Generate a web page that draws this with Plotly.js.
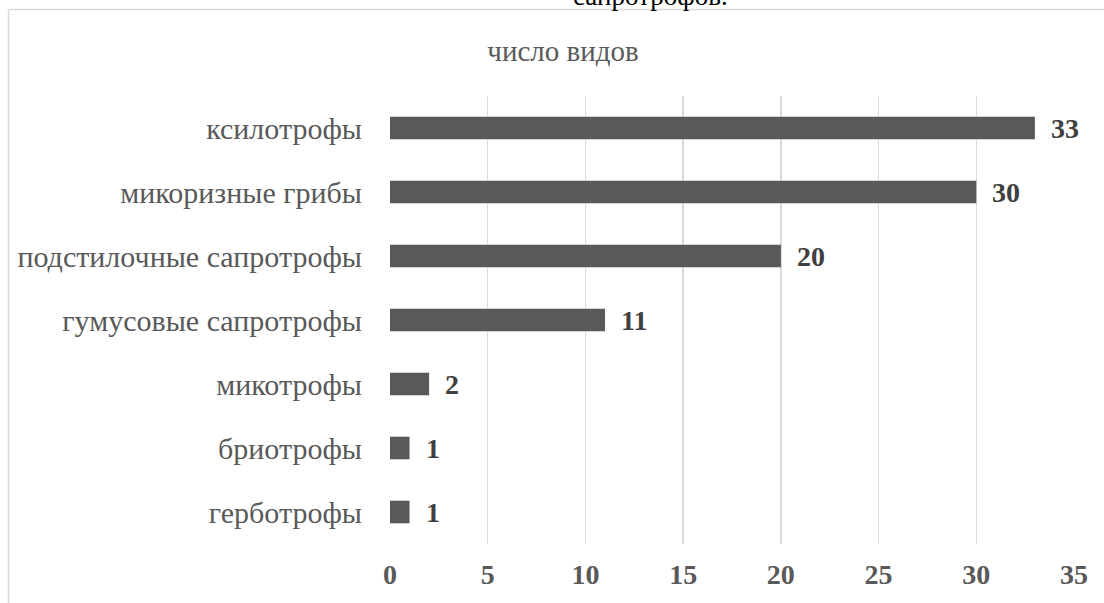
<!DOCTYPE html>
<html>
<head>
<meta charset="utf-8">
<script src="https://cdn.plot.ly/plotly-3.0.1.min.js"></script>
<style>
  html, body { margin: 0; padding: 0; background: #ffffff; }
  #chart { width: 1104px; height: 603px; }
</style>
</head>
<body>
<div id="chart"></div>
<script>
// Ecological groups of fungi and their species counts
const categories = [
  'ксилотрофы',
  'микоризные грибы',
  'подстилочные сапротрофы',
  'гумусовые сапротрофы',
  'микотрофы',
  'бриотрофы',
  'герботрофы'
];
const speciesCount = [33, 30, 20, 11, 2, 1, 1];
const xTickValues = [0, 5, 10, 15, 20, 25, 30, 35];

const serif = '"Liberation Serif", "Times New Roman", serif';
const labelGrey = '#595959';

const trace = {
  type: 'bar',
  orientation: 'h',
  x: speciesCount,
  y: categories,
  marker: { color: '#595959', line: { width: 0 } },
  hoverinfo: 'x+y'
};

// value labels to the right of each bar
const valueLabels = speciesCount.map((v, i) => ({
  x: v,
  y: categories[i],
  xref: 'x',
  yref: 'y',
  text: String(v),
  showarrow: false,
  xanchor: 'left',
  yanchor: 'middle',
  xshift: 14,
  font: { family: serif, size: 28, color: '#404040', weight: 'bold' }
}));

// chart frame lines (top and left edges)
const frameShapes = [
  { type: 'line', xref: 'paper', yref: 'paper',
    x0: (8.5 - 390) / 684, x1: 1.05, y0: (544 - 9.5) / 448, y1: (544 - 9.5) / 448,
    line: { color: '#d9d9d9', width: 1.5 } },
  { type: 'line', xref: 'paper', yref: 'paper',
    x0: (8.5 - 390) / 684, x1: (8.5 - 390) / 684, y0: (544 - 9.5) / 448, y1: -0.2,
    line: { color: '#d9d9d9', width: 1.5 } }
];

const layout = {
  width: 1104,
  height: 603,
  margin: { l: 390, r: 30, t: 96, b: 59 },
  paper_bgcolor: '#ffffff',
  plot_bgcolor: '#ffffff',
  showlegend: false,
  bargap: 0.647,
  title: {
    text: 'число видов',
    font: { family: serif, size: 29, color: labelGrey },
    x: 563 / 1104,
    xanchor: 'center',
    y: 1 - 51 / 603,
    yanchor: 'middle',
    xref: 'container',
    yref: 'container'
  },
  xaxis: {
    range: [0, 35],
    tickvals: xTickValues,
    ticktext: xTickValues.map(String),
    showgrid: true,
    gridcolor: '#d9d9d9',
    gridwidth: 1.4,
    zeroline: false,
    showline: false,
    ticks: '',
    ticklabelstandoff: 11,
    tickfont: { family: serif, size: 28, color: labelGrey, weight: 'bold' },
    fixedrange: true
  },
  yaxis: {
    type: 'category',
    autorange: 'reversed',
    showgrid: false,
    zeroline: false,
    showline: false,
    ticks: '',
    ticklabelstandoff: 27,
    tickfont: { family: serif, size: 30, color: labelGrey },
    fixedrange: true
  },
  shapes: frameShapes,
  annotations: valueLabels.concat([
    {
      text: 'сапротрофов.',
      xref: 'paper', yref: 'paper',
      x: (650 - 390) / 684, y: (544 + 4) / 448,
      xanchor: 'center', yanchor: 'middle',
      showarrow: false,
      font: { family: serif, size: 27, color: '#000000' }
    }
  ])
};

Plotly.newPlot('chart', [trace], layout, { displayModeBar: false, staticPlot: true });
</script>
</body>
</html>
